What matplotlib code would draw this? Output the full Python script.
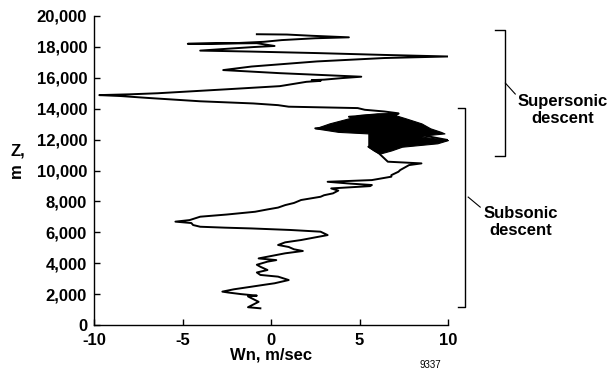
import matplotlib.pyplot as plt
from matplotlib.ticker import FuncFormatter

plt.rcParams['font.family'] = ['Liberation Sans', 'DejaVu Sans']
plt.rcParams['font.weight'] = 'bold'
plt.rcParams['axes.unicode_minus'] = False

# wind profile, listed from the top of the descent downwards
z = [18820, 18800, 18720, 18620, 18560, 18440, 18330, 18250, 18200, 18220,
     18240, 18060, 17990, 17900, 17760, 17700, 17600, 17480, 17380, 17280,
     17060, 16730, 16500, 16420, 16300, 16070, 15980, 15880, 15850, 15800,
     15740, 15460, 15250, 15000, 14930, 14880, 14820, 14700, 14480, 14340,
     14230, 14130, 14040, 13930, 13820, 13700, 13480, 13050, 12730, 12400,
     11970, 11540, 11110, 10570, 10460, 10350, 10030, 9920, 9700, 9600,
     9380, 9270, 9150, 9060, 8990, 8840, 8700, 8520, 8400, 8300,
     8090, 7900, 7760, 7600, 7480, 7330, 7150, 7010, 6790, 6690,
     6600, 6470, 6360, 6300, 6250, 6150, 6040, 5820, 5650, 5500,
     5350, 5180, 5050, 4900, 4790, 4640, 4420, 4310, 4200, 4100,
     3900, 3770, 3560, 3400, 3240, 3130, 2910, 2700, 2600, 2480,
     2310, 2160, 2100, 2000, 1900, 1850, 1500, 1150, 1080]
wn = [-0.8, 0.9, 2.3, 4.4, 2.5, 0.6, -0.4, -1.9, -4.7, -2.5,
      -0.8, 0.2, -1.0, -2.2, -4.0, -1.2, 2.6, 6.4, 10.0, 6.4,
      2.6, -1.1, -2.7, -1.4, 0.5, 5.1, 4.0, 3.0, 2.3, 2.8,
      2.0, 0.5, -2.6, -6.4, -8.0, -9.7, -8.5, -7.0, -4.0, -1.0,
      0.4, 1.0, 4.9, 5.3, 6.4, 7.2, 4.4, 6.0, 2.5, 8.0,
      10.0, 5.5, 6.1, 6.6, 8.5, 7.8, 7.3, 7.2, 6.8, 6.8,
      5.7, 3.2, 4.5, 5.7, 5.6, 3.4, 3.8, 3.5, 3.0, 2.8,
      1.7, 1.3, 0.8, 0.4, -0.2, -0.9, -2.5, -4.0, -4.6, -5.4,
      -4.5, -4.4, -4.0, -2.6, -1.1, 1.1, 2.8, 3.2, 2.4, 1.7,
      0.8, 0.4, 1.0, 1.3, 1.8, 0.8, -0.2, -0.7, 0.3, -0.2,
      -0.8, -0.6, -0.2, -0.8, -0.6, 0.4, 1.0, 0.2, -0.4, -1.1,
      -2.1, -2.75, -2.4, -1.7, -0.8, -1.3, -0.7, -1.3, -0.6]

# solid region where the trace oscillates densely
blob_z = [13700, 13590, 13380, 13050, 12730, 12500, 12400, 12230, 11970, 11760, 11540, 11300, 11110]
blob_lo = [6.0, 4.9, 4.4, 3.3, 2.5, 3.8, 5.5, 5.5, 5.5, 5.5, 5.5, 5.8, 6.1]
blob_hi = [7.2, 7.0, 7.6, 8.5, 9.0, 9.6, 9.8, 8.3, 10.0, 9.4, 7.4, 6.8, 6.2]

supersonic_span = (10940, 19090)
subsonic_span = (1160, 14030)

fig = plt.figure(figsize=(6.1, 3.75), dpi=100)
ax = fig.add_axes([94 / 610, 50 / 375, 354 / 610, 309 / 375])

ax.fill_betweenx(blob_z, blob_lo, blob_hi, color='black', lw=0.8)
ax.plot(wn, z, color='black', lw=1.4)

ax.set_xlim(-10, 10)
ax.set_ylim(0, 20000)
ax.set_xticks([-10, -5, 0, 5, 10])
ax.set_yticks(range(0, 20001, 2000))
ax.yaxis.set_major_formatter(FuncFormatter(lambda v, p: f'{int(v):,}'))
ax.tick_params(direction='in', length=4, width=1, labelsize=12)
ax.tick_params(axis='y', pad=5)
ax.tick_params(axis='x', pad=5.5)
for s in ['top', 'right']:
    ax.spines[s].set_visible(False)
for s in ['left', 'bottom']:
    ax.spines[s].set_linewidth(1.0)

ax.set_xlabel('Wn, m/sec', fontsize=12, fontweight='bold', labelpad=0)
fig.text(18 / 610, 1 - 151 / 375, 'Z,', fontsize=12, fontweight='bold', ha='center', va='center')
fig.text(16 / 610, 1 - 171 / 375, 'm', fontsize=12, fontweight='bold', ha='center', va='center',
         rotation=90)

# brackets
lo, hi = supersonic_span
ax.plot([12.67, 13.2, 13.2, 12.67], [hi, hi, lo, lo], color='black', lw=1, clip_on=False)
ax.plot([13.24, 13.8], [15660, 14950], color='black', lw=0.8, clip_on=False)
ax.text(16.5, 13900, 'Supersonic\ndescent', fontsize=12, fontweight='bold',
        ha='center', va='center', multialignment='center', linespacing=1.15)

lo, hi = subsonic_span
ax.plot([10.57, 10.97, 10.97, 10.57], [hi, hi, lo, lo], color='black', lw=1, clip_on=False)
ax.plot([11.14, 11.82], [8280, 7630], color='black', lw=0.8, clip_on=False)
ax.text(14.1, 6650, 'Subsonic\ndescent', fontsize=12, fontweight='bold',
        ha='center', va='center', multialignment='center', linespacing=1.15)

fig.text(430 / 610, 1 - 365 / 375, '9337', fontsize=7, fontweight='normal', ha='center', va='center')

fig.savefig('out.png', dpi=100)
